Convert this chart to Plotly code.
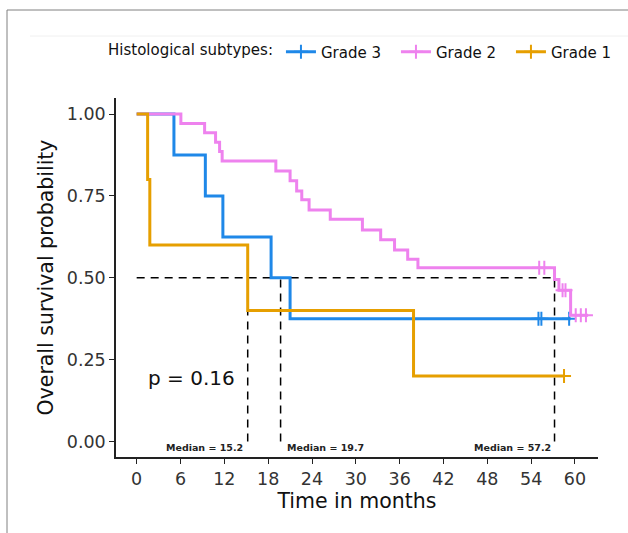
import plotly.graph_objects as go

# ---- data ----
groups = ["Grade 3", "Grade 2", "Grade 1"]
colors = ["#1F88E8", "#EE82EE", "#E69F00"]

g3_time = [0, 5.1, 9.4, 11.8, 18.4, 21.0, 59.4]
g3_surv = [1.0, 0.875, 0.75, 0.625, 0.5, 0.375, 0.375]
g3_cens_time = [55.0, 55.4, 59.2]
g3_cens_surv = [0.375, 0.375, 0.375]

g2_time = [0, 6.05, 9.3, 10.8, 11.35, 11.7, 19.05, 21.0, 21.9, 22.6, 23.6, 26.5,
           30.9, 33.4, 35.3, 37.1, 38.5, 57.2, 57.8, 59.4, 61.8]
g2_surv = [1.0, 0.971, 0.943, 0.914, 0.886, 0.857, 0.826, 0.796, 0.765, 0.738, 0.707, 0.679,
           0.646, 0.616, 0.585, 0.557, 0.531, 0.495, 0.462, 0.386, 0.386]
g2_cens_time = [55.1, 55.8, 58.3, 58.7, 60.1, 60.8, 61.5]
g2_cens_surv = [0.531, 0.531, 0.462, 0.462, 0.386, 0.386, 0.386]

g1_time = [0, 1.5, 1.8, 15.2, 37.9, 58.5]
g1_surv = [1.0, 0.8, 0.6, 0.4, 0.2, 0.2]
g1_cens_time = [58.5]
g1_cens_surv = [0.2]

medians = [15.2, 19.7, 57.2]
median_labels = ["Median = 15.2", "Median = 19.7", "Median = 57.2"]
p_text = "p = 0.16"

x_ticks = [0, 6, 12, 18, 24, 30, 36, 42, 48, 54, 60]
y_ticks = [0.0, 0.25, 0.5, 0.75, 1.0]

FONT = "DejaVu Sans"

curves = [
    (g3_time, g3_surv, g3_cens_time, g3_cens_surv),
    (g2_time, g2_surv, g2_cens_time, g2_cens_surv),
    (g1_time, g1_surv, g1_cens_time, g1_cens_surv),
]

fig = go.Figure()

# median reference lines (drawn beneath curves)
dash_style = dict(color="black", width=1.5, dash="8px,6px")
fig.add_trace(go.Scatter(x=[0, max(medians)], y=[0.5, 0.5], mode="lines",
                         line=dash_style, showlegend=False, hoverinfo="skip"))
for m in medians:
    fig.add_trace(go.Scatter(x=[m, m], y=[0, 0.5], mode="lines",
                             line=dash_style, showlegend=False, hoverinfo="skip"))

for name, col, (t, s, ct, cs) in zip(groups, colors, curves):
    fig.add_trace(go.Scatter(x=t, y=s, mode="lines", line=dict(color=col, width=3, shape="hv"),
                             showlegend=False, name=name))
    fig.add_trace(go.Scatter(x=ct, y=cs, mode="markers",
                             marker=dict(symbol="cross-thin", size=10,
                                         line=dict(color=col, width=2)),
                             showlegend=False, name=name))
    # legend entry
    fig.add_trace(go.Scatter(x=[None], y=[None], mode="lines+markers", name=name,
                             line=dict(color=col, width=3),
                             marker=dict(symbol="cross-thin", size=10,
                                         line=dict(color=col, width=2))))

# median labels
anchors = ["right", "left", "right"]
shifts = [-3, 4, -2]
for m, lab, a, sh in zip(medians, median_labels, anchors, shifts):
    fig.add_annotation(x=m, y=-0.017, text="<b>" + lab + "</b>", showarrow=False,
                       xanchor=a, yanchor="middle", xshift=sh,
                       font=dict(family=FONT, size=9.5, color="#222222"))

fig.add_annotation(x=1.3, y=0.195, text=p_text, showarrow=False, xanchor="left",
                   yanchor="middle", font=dict(family=FONT, size=20, color="#111111"))

# frame lines around the screenshot
L, R, T, B = 116, 30, 98, 76
W, H = 628, 533
pw, ph = W - L - R, H - T - B


def px(xp):
    return (xp - L) / pw


def py(yp):
    return (H - B - yp) / ph


fig.add_shape(type="line", xref="paper", yref="paper", x0=px(7), x1=px(628), y0=py(10), y1=py(10),
              line=dict(color="#808080", width=1))
fig.add_shape(type="line", xref="paper", yref="paper", x0=px(7), x1=px(7), y0=py(10), y1=py(533),
              line=dict(color="#808080", width=1))
fig.add_shape(type="line", xref="paper", yref="paper", x0=px(30), x1=px(628), y0=py(36), y1=py(36),
              line=dict(color="#F0F0F0", width=1))

axis_common = dict(showline=True, linecolor="#222222", linewidth=1.5, ticks="outside",
                   ticklen=5, tickwidth=1.2, tickcolor="#222222", showgrid=False, zeroline=False,
                   tickfont=dict(family=FONT, size=17.5, color="#333333"))

fig.update_layout(
    width=W, height=H,
    margin=dict(l=L, r=R, t=T, b=B, pad=0),
    plot_bgcolor="white", paper_bgcolor="white",
    font=dict(family=FONT, color="#111111"),
    xaxis=dict(range=[-2.83, 63.15], tickvals=x_ticks,
               title=dict(text="Time in months", font=dict(family=FONT, size=20.5, color="#111111"),
                          standoff=4),
               **axis_common),
    yaxis=dict(range=[-0.047, 1.049], tickvals=y_ticks, tickformat=".2f",
               title=dict(text="Overall survival probability",
                          font=dict(family=FONT, size=20.5, color="#111111"), standoff=8),
               **axis_common),
    legend=dict(orientation="h", x=px(106), xanchor="left", y=py(52), yanchor="middle",
                title=dict(text="Histological subtypes:", side="left",
                           font=dict(family=FONT, size=15, color="#111111")),
                font=dict(family=FONT, size=15, color="#111111"),
                bgcolor="rgba(0,0,0,0)", itemwidth=30,
                entrywidth=70, entrywidthmode="pixels"),
)

fig.write_html("out.html")
